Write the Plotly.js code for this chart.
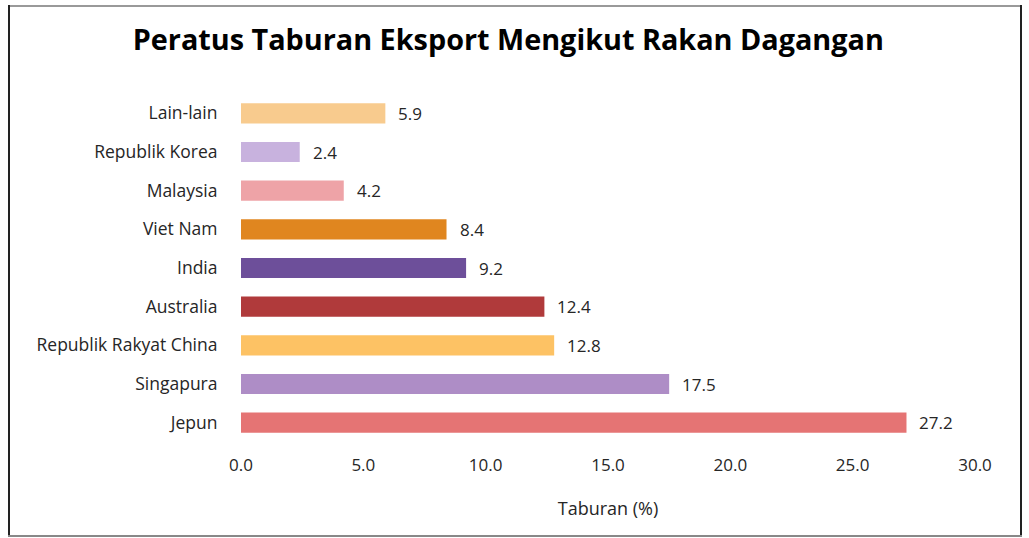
<!DOCTYPE html>
<html>
<head>
<meta charset="utf-8">
<script src="https://cdn.plot.ly/plotly-3.0.1.min.js"></script>
<style>
  html, body { margin: 0; padding: 0; background: #fff; }
  #wrap { position: relative; width: 1029px; height: 538px; }
  #chart { width: 1029px; height: 538px; }
  .bl { position: absolute; pointer-events: none; }
</style>
</head>
<body>
<div id="wrap">
  <div id="chart"></div>
  <div class="bl" style="left:8px; top:5px; width:1014px; height:2px; background:#999;"></div>
  <div class="bl" style="left:8px; top:5px; width:2px; height:532px; background:#222;"></div>
  <div class="bl" style="left:1020px; top:5px; width:2px; height:532px; background:#222;"></div>
  <div class="bl" style="left:8px; top:535px; width:1014px; height:2px; background:#888;"></div>
</div>
<script>
// Data (top-to-bottom order as shown)
const categories = ["Lain-lain", "Republik Korea", "Malaysia", "Viet Nam", "India",
                    "Australia", "Republik Rakyat China", "Singapura", "Jepun"];
const values = [5.9, 2.4, 4.2, 8.4, 9.2, 12.4, 12.8, 17.5, 27.2];
const barColors = ["#F8CB8E", "#C8B2DE", "#EEA3A7", "#E0861F", "#6D4F9A",
                   "#B03A3B", "#FDC264", "#AE8DC6", "#E57474"];
const xTickVals = [0, 5, 10, 15, 20, 25, 30];
const xTickText = ["0.0", "5.0", "10.0", "15.0", "20.0", "25.0", "30.0"];

const fontFam = "'Open Sans', 'Noto Sans', sans-serif";
const txtColor = "#262626";

const trace = {
  type: "bar",
  orientation: "h",
  y: categories,
  x: values,
  marker: { color: barColors },
  hoverinfo: "skip"
};

const annotations = categories.map((c, i) => ({
  x: values[i], y: c, xref: "x", yref: "y",
  text: values[i].toFixed(1), showarrow: false,
  xanchor: "left", xshift: 11,
  font: { family: fontFam, size: 17, color: txtColor }
}));

const layout = {
  width: 1029, height: 538,
  margin: { l: 241, r: 54, t: 94, b: 96 },
  paper_bgcolor: "#ffffff",
  plot_bgcolor: "#ffffff",
  showlegend: false,
  bargap: 0.48,
  title: {
    text: "<b>Peratus Taburan Eksport Mengikut Rakan Dagangan</b>",
    font: { family: fontFam, size: 28.8, color: "#000" },
    x: 0.494, xanchor: "center", y: 0.925, yanchor: "middle"
  },
  xaxis: {
    range: [0, 30],
    tickvals: xTickVals,
    ticktext: xTickText,
    showgrid: false, zeroline: false, showline: false,
    ticks: "outside", ticklen: 8, tickcolor: "rgba(0,0,0,0)",
    tickfont: { family: fontFam, size: 17, color: txtColor },
    title: { text: "Taburan (%)", font: { family: fontFam, size: 18, color: txtColor }, standoff: 26 }
  },
  yaxis: {
    categoryorder: "array",
    categoryarray: categories.slice().reverse(),
    autorange: true,
    showgrid: false, zeroline: false, showline: false,
    ticks: "outside", ticklen: 19, tickcolor: "rgba(0,0,0,0)",
    tickfont: { family: fontFam, size: 17.5, color: txtColor }
  },
  annotations: annotations
};

Plotly.newPlot("chart", [trace], layout, { staticPlot: true, displayModeBar: false });
</script>
</body>
</html>
